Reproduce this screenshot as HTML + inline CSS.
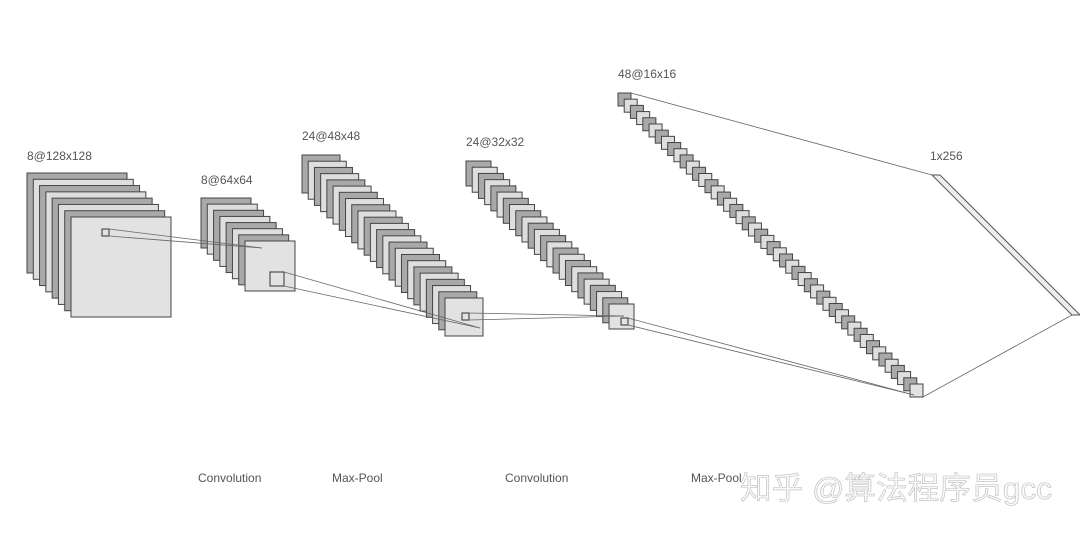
<!DOCTYPE html>
<html><head><meta charset="utf-8"><style>
html,body{margin:0;padding:0;background:#fff;width:1080px;height:535px;overflow:hidden}
svg{display:block}
.t{font-family:"Liberation Sans",sans-serif;font-size:12px;fill:#555}
.wm{font-family:"Liberation Sans","Noto Sans CJK SC",sans-serif;font-size:31px;fill:#fafafa;stroke:#bbb;stroke-width:0.6px}
</style></head><body>
<svg id="s" width="1080" height="535" xmlns="http://www.w3.org/2000/svg">
<g id="g"></g>
<g fill="none" stroke="#666" stroke-width="0.8">
<rect x="102" y="229" width="7" height="7" stroke="#333" stroke-width="1"/>
<line x1="109" y1="229" x2="262" y2="248"/>
<line x1="109" y1="236" x2="262" y2="248"/>
<rect x="270" y="272" width="14" height="14" stroke="#333" stroke-width="1"/>
<line x1="284" y1="272" x2="480" y2="328"/>
<line x1="284" y1="286" x2="480" y2="328"/>
<rect x="462" y="313" width="7" height="7" stroke="#333" stroke-width="1"/>
<line x1="469" y1="313" x2="624" y2="316"/>
<line x1="469" y1="320" x2="624" y2="316"/>
<rect x="621" y="318" width="7" height="7" stroke="#333" stroke-width="1"/>
<line x1="628" y1="318" x2="914" y2="395"/>
<line x1="628" y1="325" x2="914" y2="395"/>
<line x1="631" y1="93" x2="932" y2="175"/>
<line x1="923" y1="397" x2="1072" y2="315"/>
<polygon points="932,175 940,175 1080,315 1072,315" fill="#eee" stroke="#555" stroke-width="1"/>
</g>
<text class="t" x="27" y="160">8@128x128</text>
<text class="t" x="201" y="184">8@64x64</text>
<text class="t" x="302" y="140">24@48x48</text>
<text class="t" x="466" y="146">24@32x32</text>
<text class="t" x="618" y="78">48@16x16</text>
<text class="t" x="930" y="160">1x256</text>
<text class="t" x="198" y="482">Convolution</text>
<text class="t" x="332" y="482">Max-Pool</text>
<text class="t" x="505" y="482">Convolution</text>
<text class="t" x="691" y="482">Max-Pool</text>
<text class="wm" x="740" y="499" textLength="312" lengthAdjust="spacingAndGlyphs">知乎 @算法程序员gcc</text>
</svg>
<script>
var g=document.getElementById('g');
function layer(n,x0,y0,x1,y1,sz){
 for(var i=0;i<n;i++){
  var x=x0+(x1-x0)*i/(n-1), y=y0+(y1-y0)*i/(n-1);
  var r=document.createElementNS('http://www.w3.org/2000/svg','rect');
  r.setAttribute('x',x);r.setAttribute('y',y);r.setAttribute('width',sz);r.setAttribute('height',sz);
  r.setAttribute('fill',i%2==0?'#a9a9a9':'#dedede');
  if(i==n-1)r.setAttribute('fill','#e2e2e2');
  r.setAttribute('stroke','#444');r.setAttribute('stroke-width','1');
  g.appendChild(r);
 }
}
layer(8,27,173,71,217,100);
layer(8,201,198,245,241,50);
layer(24,302,155,445,298,38);
layer(24,466,161,609,304,25);
layer(48,618,93,910,384,13);
</script>
</body></html>
